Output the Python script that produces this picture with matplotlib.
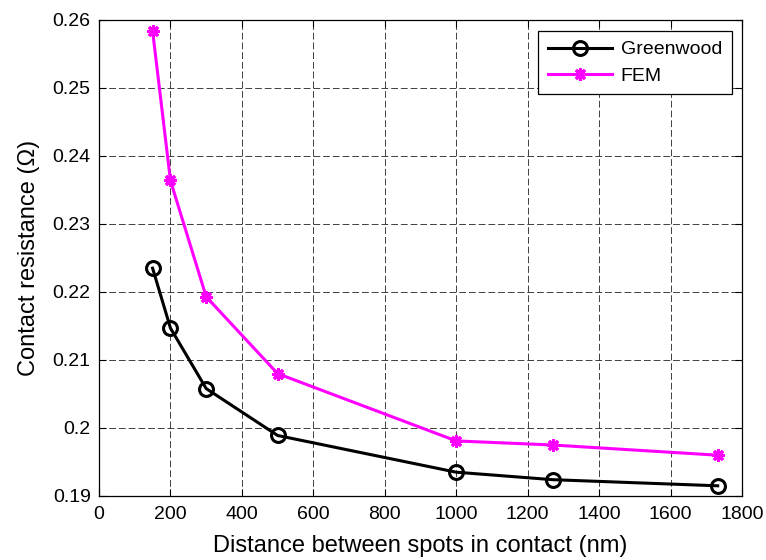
import matplotlib
matplotlib.use("Agg")
import matplotlib.pyplot as plt

# Data
distance_nm = [150, 200, 300, 500, 1000, 1270, 1732]
greenwood = [0.2235, 0.2147, 0.2058, 0.1989, 0.1935, 0.1924, 0.1915]
fem = [0.2584, 0.2364, 0.2193, 0.2080, 0.1981, 0.1975, 0.1960]
xticks = [0, 200, 400, 600, 800, 1000, 1200, 1400, 1600, 1800]
yticks = [0.19, 0.20, 0.21, 0.22, 0.23, 0.24, 0.25, 0.26]
ytick_labels = ["0.19", "0.2", "0.21", "0.22", "0.23", "0.24", "0.25", "0.26"]

plt.rcParams['font.family'] = ['Liberation Sans', 'DejaVu Sans']

fig = plt.figure(figsize=(7.66, 5.6), dpi=100)
ax = fig.add_axes([99/766, 1-496/560, (742-99)/766, (496-20)/560])

ax.plot(distance_nm, greenwood, color='black', lw=2.2, marker='o', ms=10,
        mfc='none', mec='black', mew=2.2, label='Greenwood', zorder=3)
ax.plot(distance_nm, fem, color='#ff00ff', lw=2.2, marker=(8, 2, 0), ms=9,
        mfc='#ff00ff', mec='#ff00ff', mew=2.2, label='FEM', zorder=3)

ax.set_xlim(0, 1800)
ax.set_ylim(0.19, 0.26)
ax.set_xticks(xticks)
ax.set_xticklabels([str(t) for t in xticks])
ax.set_yticks(yticks)
ax.set_yticklabels(ytick_labels)

ax.grid(True, color='black', linestyle=(0, (7, 3)), linewidth=0.7, alpha=0.75)
ax.tick_params(direction='in', length=5, width=0.8, top=True, right=True,
               labelsize=14)
ax.tick_params(axis='x', pad=7)
ax.tick_params(axis='y', pad=6)
for s in ax.spines.values():
    s.set_linewidth(0.9)

ax.set_xlabel('Distance between spots in contact (nm)', fontsize=17, labelpad=9)
ax.set_ylabel('Contact resistance (\u03a9)', fontsize=17, labelpad=9)

leg = ax.legend(loc='upper right', bbox_to_anchor=(731.7/766, 1-31/560),
                bbox_transform=fig.transFigure, borderaxespad=0,
                fontsize=14, frameon=True, fancybox=False, shadow=False,
                handlelength=3.3, handletextpad=0.45, borderpad=0.5,
                labelspacing=0.45)
leg.get_frame().set_edgecolor('black')
leg.get_frame().set_linewidth(0.9)
leg.get_frame().set_alpha(1)

fig.savefig('out.png', dpi=100)
